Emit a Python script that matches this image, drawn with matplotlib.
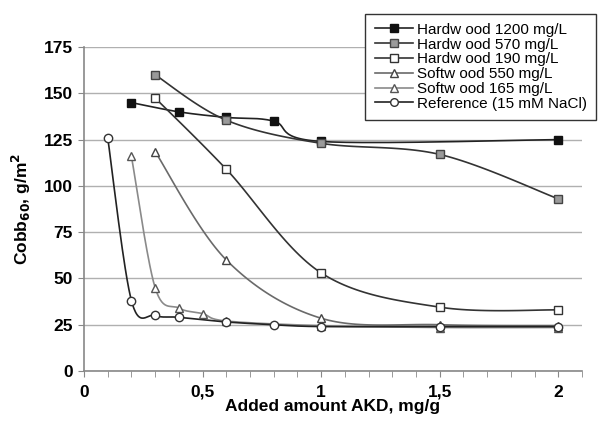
import matplotlib
matplotlib.use('Agg')
import matplotlib.pyplot as plt
import numpy as np

plt.rcParams['font.family'] = ['Liberation Sans', 'DejaVu Sans']

# data
hw1200_x = [0.2, 0.4, 0.6, 0.8, 1.0, 2.0]
hw1200_y = [145, 140, 137, 135, 124, 125]
hw570_x = [0.3, 0.6, 1.0, 1.5, 2.0]
hw570_y = [160, 135.5, 123, 117, 93]
hw190_x = [0.3, 0.6, 1.0, 1.5, 2.0]
hw190_y = [147.5, 109, 53, 34.5, 33]
sw550_x = [0.3, 0.6, 1.0, 1.5, 2.0]
sw550_y = [118.5, 60, 28.5, 25, 24.5]
sw165_x = [0.2, 0.3, 0.4, 0.5, 0.6, 1.0, 1.5, 2.0]
sw165_y = [116, 45, 34, 31, 27, 24.5, 23.5, 23.5]
ref_x = [0.1, 0.2, 0.3, 0.4, 0.6, 0.8, 1.0, 1.5, 2.0]
ref_y = [126, 38, 30, 29, 26.5, 25, 24, 24, 24]

labels = ['Hardw ood 1200 mg/L', 'Hardw ood 570 mg/L', 'Hardw ood 190 mg/L',
          'Softw ood 550 mg/L', 'Softw ood 165 mg/L', 'Reference (15 mM NaCl)']


def smooth(x, y, sx=238.0, sy=324.0 / 175.0, n=30):
    # excel-like smoothed line (bezier through points), done in pixel-ish space
    p = np.column_stack([np.asarray(x) * sx, np.asarray(y) * sy])
    out = [p[0]]
    for i in range(len(p) - 1):
        p0 = p[i - 1] if i > 0 else p[i]
        p1, p2 = p[i], p[i + 1]
        p3 = p[i + 2] if i + 2 < len(p) else p[i + 1]
        c1 = p1 + (p2 - p0) / 6.0
        c2 = p2 - (p3 - p1) / 6.0
        t = np.linspace(0, 1, n)[1:, None]
        seg = ((1 - t) ** 3) * p1 + 3 * ((1 - t) ** 2) * t * c1 + 3 * (1 - t) * t ** 2 * c2 + t ** 3 * p2
        out.extend(seg)
    out = np.array(out)
    return out[:, 0] / sx, out[:, 1] / sy


fig = plt.figure(figsize=(6, 4.24), dpi=100)
ax = fig.add_axes([0.14, 0.125, 0.83, 0.764])

series = [
    (hw1200_x, hw1200_y, 's', '#111111', '#111111', '#222222'),
    (hw570_x, hw570_y, 's', '#9a9a9a', '#444444', '#333333'),
    (hw190_x, hw190_y, 's', 'white', '#333333', '#333333'),
    (sw550_x, sw550_y, '^', 'white', '#444444', '#6a6a6a'),
    (sw165_x, sw165_y, '^', 'white', '#555555', '#8a8a8a'),
    (ref_x, ref_y, 'o', 'white', '#333333', '#222222'),
]

handles = []
for (x, y, mk, fc, ec, lc), lab in zip(series, labels):
    sxv, syv = smooth(x, y)
    ax.plot(sxv, syv, color=lc, lw=1.2, zorder=2)
    ax.plot(x, y, ls='none', marker=mk, ms=6, mfc=fc, mec=ec, mew=1.0, zorder=3)
    h, = ax.plot([], [], color=lc, lw=1.2, marker=mk, ms=5.5, mfc=fc, mec=ec, mew=1.0)
    handles.append(h)

ax.set_xlim(0, 2.1)
ax.set_ylim(0, 175)
ax.set_yticks(np.arange(0, 176, 25))
ax.set_xticks([0, 0.5, 1, 1.5, 2])
ax.set_xticklabels(['0', '0,5', '1', '1,5', '2'])
ax.set_xticks(np.arange(0, 2.11, 0.1), minor=True)
ax.grid(axis='y', color='#b0b0b0', lw=1.0)
ax.set_axisbelow(True)
for s in ['top', 'right']:
    ax.spines[s].set_visible(False)
for s in ['left', 'bottom']:
    ax.spines[s].set_color('#888888')
    ax.spines[s].set_linewidth(1.2)
ax.tick_params(axis='x', which='both', direction='out', length=4, color='#888888',
               labelsize=12.5, pad=6)
ax.tick_params(axis='y', direction='out', length=4, color='#888888', labelsize=12.5, pad=4)
for t in ax.get_xticklabels() + ax.get_yticklabels():
    t.set_fontweight('bold')

ax.set_xlabel('Added amount AKD, mg/g', fontsize=12.5, fontweight='bold', labelpad=-1)
ax.set_ylabel('Cobb$_{\\mathbf{60}}$, g/m$^{\\mathbf{2}}$', fontsize=12.5, fontweight='bold',
              labelpad=8)

leg = fig.legend(handles, labels, loc='upper right', bbox_to_anchor=(0.998, 0.975),
                 fontsize=11, handlelength=2.5, labelspacing=0.05, handletextpad=0.25,
                 borderpad=0.6, borderaxespad=0.2, fancybox=False, framealpha=1)
leg.get_frame().set_edgecolor('#333333')
leg.get_frame().set_linewidth(1.0)

fig.savefig('out.png', dpi=100)
